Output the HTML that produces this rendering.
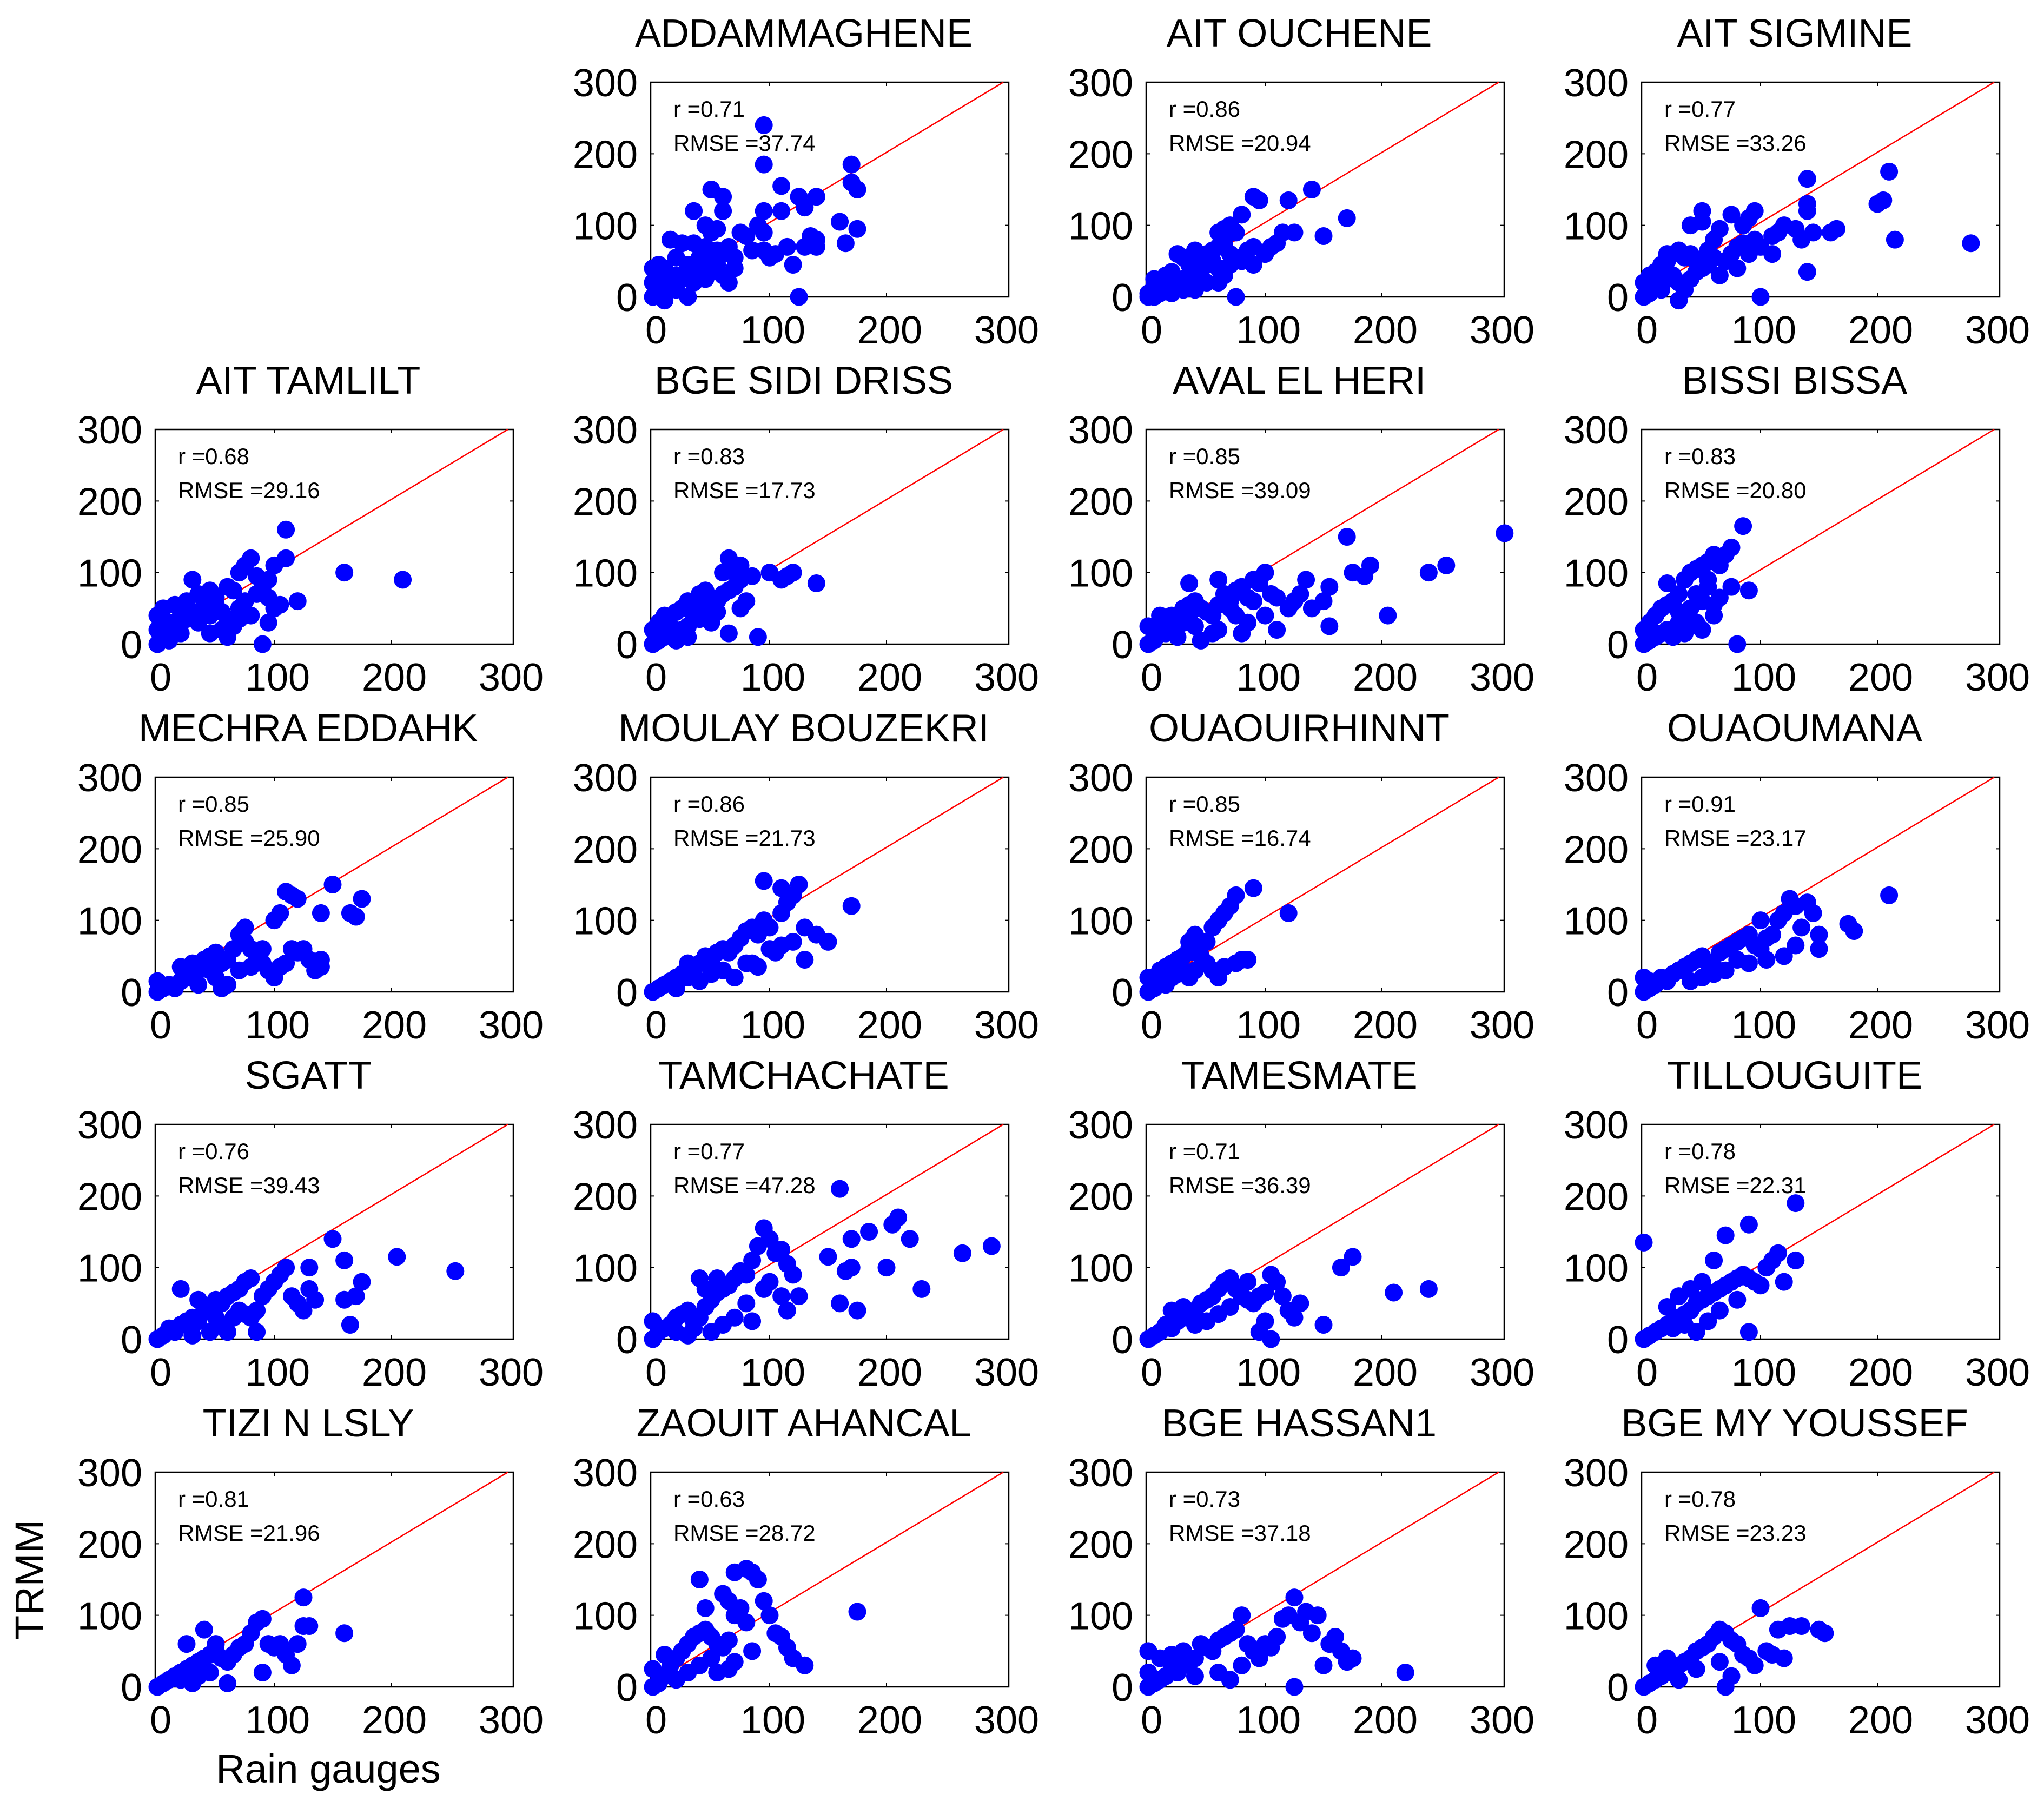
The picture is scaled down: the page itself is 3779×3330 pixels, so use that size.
<!DOCTYPE html>
<html><head><meta charset="utf-8"><title>TRMM vs Rain gauges</title>
<style>
html,body{margin:0;padding:0;background:#fff;}
svg{display:block;font-family:"Liberation Sans",sans-serif;}
</style></head>
<body>
<svg id="fig" xmlns="http://www.w3.org/2000/svg" width="3779" height="3330" viewBox="0 0 3779 3330">
<rect x="0" y="0" width="3779" height="3330" fill="#fff"/>
<text x="0" y="0" transform="translate(80,2921) rotate(-90)" text-anchor="middle" font-size="74">TRMM</text>
<text x="607" y="3296" text-anchor="middle" font-size="74">Rain gauges</text>
</svg>
<script>
const stations = ["ADDAMMAGHENE","AIT OUCHENE","AIT SIGMINE","AIT TAMLILT","BGE SIDI DRISS","AVAL EL HERI","BISSI BISSA","MECHRA EDDAHK","MOULAY BOUZEKRI","OUAOUIRHINNT","OUAOUMANA","SGATT","TAMCHACHATE","TAMESMATE","TILLOUGUITE","TIZI N LSLY","ZAOUIT AHANCAL","BGE HASSAN1","BGE MY YOUSSEF"];
const rValues = ["0.71","0.86","0.77","0.68","0.83","0.85","0.83","0.85","0.86","0.85","0.91","0.76","0.77","0.71","0.78","0.81","0.63","0.73","0.78"];
const rmseValues = ["37.74","20.94","33.26","29.16","17.73","39.09","20.80","25.90","21.73","16.74","23.17","39.43","47.28","36.39","22.31","21.96","28.72","37.18","23.23"];
const tickValues = [0,100,200,300];
const tickLabels = ["0","100","200","300"];

const pts0 = [[95,240],[95,185],[170,185],[110,155],[170,160],[175,150],[50,150],[60,140],[140,140],[125,140],[130,125],[35,120],[60,120],[110,120],[160,105],[175,95],[95,120],[90,100],[95,90],[80,85],[75,90],[135,85],[140,80],[130,70],[165,75],[115,70],[95,65],[100,55],[105,60],[120,45],[140,70],[125,0],[70,55],[85,65],[70,40],[60,30],[65,20],[30,0],[15,80],[25,75],[35,75],[45,70],[55,65],[50,50],[40,40],[45,100],[50,90],[55,95],[20,55],[30,45],[10,40],[5,30],[0,20],[0,0],[5,10],[10,5],[15,20],[20,30],[25,25],[30,35],[35,20],[40,30],[45,25],[50,35],[55,45],[20,10],[10,-5],[5,45],[0,40],[40,55],[60,60],[65,70]];
const pts1 = [[5,0],[0,5],[10,5],[15,10],[20,15],[25,20],[30,25],[10,20],[20,5],[5,15],[30,10],[35,30],[40,35],[45,40],[50,45],[55,50],[20,35],[25,60],[30,55],[40,65],[45,55],[50,60],[55,65],[60,70],[65,75],[70,60],[75,55],[80,50],[85,65],[90,70],[60,90],[65,95],[75,90],[70,100],[80,115],[90,140],[95,135],[120,135],[115,90],[110,75],[105,70],[140,150],[150,85],[170,110],[125,90],[100,60],[60,40],[65,30],[70,45],[90,45],[15,30],[35,45],[45,30],[50,20],[40,10],[60,20],[75,0],[5,25],[0,0]];
const pts2 = [[0,0],[5,5],[10,15],[15,10],[0,20],[20,25],[25,30],[30,20],[10,35],[5,30],[15,45],[20,50],[25,60],[30,65],[35,55],[40,60],[45,50],[50,40],[55,65],[20,60],[40,25],[45,35],[55,45],[60,55],[70,50],[75,60],[80,70],[85,75],[60,80],[50,105],[50,120],[40,100],[65,95],[85,100],[90,110],[95,80],[100,70],[110,85],[115,90],[120,100],[130,95],[135,80],[140,120],[140,130],[145,90],[140,35],[165,95],[200,130],[205,135],[210,175],[215,80],[280,75],[160,90],[110,60],[100,0],[80,40],[65,30],[30,-5],[35,10],[90,60],[75,115],[95,120],[140,165]];
const pts3 = [[0,0],[5,10],[10,5],[0,20],[5,25],[10,30],[15,20],[20,15],[0,40],[5,50],[15,55],[20,40],[25,35],[30,45],[35,30],[40,50],[45,40],[50,55],[55,45],[60,35],[65,25],[70,50],[75,60],[80,40],[85,70],[90,75],[95,65],[30,90],[25,60],[35,70],[40,60],[45,75],[50,65],[60,80],[70,100],[75,110],[80,120],[90,80],[95,90],[100,110],[110,120],[110,160],[120,60],[160,100],[210,90],[85,95],[90,0],[20,30],[45,15],[55,20],[60,10],[5,35],[65,75],[70,35],[100,50],[95,30],[105,55],[75,40]];
const pts4 = [[0,0],[5,5],[10,10],[0,20],[5,30],[15,15],[20,5],[25,20],[30,25],[35,35],[10,40],[20,45],[25,50],[30,60],[35,55],[40,50],[45,45],[40,70],[45,75],[50,65],[55,60],[60,70],[65,75],[70,80],[75,90],[70,100],[65,120],[60,100],[80,60],[75,50],[85,95],[100,100],[110,90],[115,95],[120,100],[140,85],[90,10],[65,15],[50,30],[40,35],[30,10],[15,25],[55,45],[75,110]];
const pts5 = [[0,0],[5,5],[10,20],[0,25],[15,15],[20,25],[25,10],[30,30],[35,35],[10,40],[20,40],[30,50],[35,55],[40,60],[45,50],[50,45],[55,40],[60,55],[65,70],[70,60],[75,75],[80,80],[85,65],[90,90],[95,85],[100,100],[105,70],[110,65],[35,85],[60,90],[70,50],[75,40],[85,30],[80,15],[100,40],[110,20],[120,50],[130,70],[135,90],[150,60],[155,80],[155,25],[170,150],[175,100],[185,95],[190,110],[205,40],[240,100],[255,110],[305,155],[125,60],[140,50],[60,20],[45,5],[55,15],[90,60],[40,25]];
const pts6 = [[0,0],[5,5],[0,20],[5,30],[10,10],[15,15],[20,20],[10,40],[15,50],[20,55],[25,60],[30,45],[35,40],[40,50],[45,70],[30,70],[20,85],[35,90],[40,100],[45,105],[50,110],[55,115],[60,125],[65,110],[55,90],[70,125],[75,135],[85,165],[55,80],[50,60],[45,30],[40,25],[25,10],[35,15],[50,20],[60,40],[65,65],[75,80],[90,75],[80,0],[60,55],[30,30]];
const pts7 = [[0,0],[5,5],[10,10],[15,5],[0,15],[20,15],[25,20],[30,25],[35,30],[40,45],[45,50],[50,55],[55,40],[60,45],[65,60],[70,80],[75,70],[80,60],[85,50],[90,40],[95,30],[100,20],[105,35],[110,40],[115,60],[120,55],[125,60],[130,45],[135,30],[140,45],[100,100],[105,110],[110,140],[115,135],[120,130],[140,110],[150,150],[165,110],[170,105],[175,130],[20,35],[30,40],[45,30],[50,20],[60,10],[70,30],[80,35],[90,60],[140,35],[75,90],[35,10],[55,5]];
const pts8 = [[0,0],[5,5],[10,10],[15,15],[20,20],[25,25],[30,20],[35,30],[40,40],[45,50],[50,45],[55,55],[60,60],[65,55],[70,65],[75,75],[80,85],[85,90],[90,80],[95,100],[100,90],[110,110],[115,125],[120,135],[125,150],[95,155],[110,145],[100,60],[110,65],[120,70],[130,90],[140,80],[150,70],[170,120],[130,45],[70,20],[80,40],[90,35],[105,55],[60,30],[40,15],[20,5],[30,40],[50,25],[85,40]];
const pts9 = [[0,0],[5,5],[10,15],[15,10],[20,20],[25,25],[30,30],[35,20],[0,20],[10,30],[15,35],[20,40],[25,45],[30,50],[35,60],[40,55],[45,65],[50,70],[55,90],[60,100],[65,110],[70,120],[75,135],[90,145],[120,110],[50,40],[55,30],[60,20],[65,35],[75,40],[80,45],[85,45],[40,80],[35,70],[45,50],[40,30]];
const pts10 = [[0,0],[5,5],[10,10],[0,20],[5,15],[15,20],[20,15],[25,25],[30,30],[35,35],[40,40],[45,45],[50,50],[55,40],[60,35],[65,55],[70,60],[75,65],[80,70],[85,75],[90,80],[95,65],[100,60],[105,75],[110,80],[115,100],[120,110],[125,130],[130,120],[140,125],[145,110],[135,90],[130,65],[120,50],[105,45],[90,40],[80,45],[60,25],[40,15],[50,20],[175,95],[180,85],[210,135],[150,80],[150,60],[100,100],[70,30]];
const pts11 = [[0,0],[5,5],[10,15],[15,10],[20,20],[25,25],[30,30],[35,25],[40,40],[45,45],[50,55],[55,50],[60,60],[65,65],[70,70],[75,80],[80,85],[20,70],[35,55],[50,30],[55,20],[60,10],[65,30],[70,40],[75,35],[80,30],[85,40],[90,60],[95,70],[100,80],[105,90],[110,100],[115,60],[120,50],[125,40],[130,70],[135,55],[150,140],[160,55],[170,60],[165,20],[175,80],[205,115],[255,95],[160,110],[130,100],[45,10],[85,10],[30,5]];
const pts12 = [[0,0],[5,10],[10,15],[0,25],[15,20],[20,30],[25,35],[30,40],[35,25],[40,30],[45,45],[50,55],[55,65],[60,70],[65,75],[70,85],[75,95],[80,90],[85,110],[90,130],[95,155],[100,140],[105,120],[110,125],[115,105],[120,90],[100,80],[95,70],[110,60],[115,40],[125,60],[55,85],[40,85],[45,70],[35,15],[20,10],[60,20],[70,30],[80,50],[150,115],[160,50],[165,95],[170,100],[170,140],[175,40],[185,150],[200,100],[205,160],[210,170],[220,140],[230,70],[265,120],[290,130],[160,210],[30,5],[50,10],[85,25]];
const pts13 = [[0,0],[5,5],[10,10],[15,20],[20,15],[25,25],[30,30],[35,35],[40,40],[45,50],[50,55],[55,60],[60,70],[65,80],[70,85],[75,70],[80,60],[85,55],[90,50],[95,60],[100,65],[105,90],[110,80],[115,60],[120,40],[125,30],[130,50],[100,25],[95,10],[105,0],[30,45],[20,40],[40,20],[50,25],[60,35],[70,45],[150,20],[165,100],[175,115],[210,65],[240,70],[85,80]];
const pts14 = [[0,0],[5,5],[10,10],[15,15],[20,20],[25,25],[30,30],[35,35],[40,40],[45,50],[50,55],[55,60],[60,65],[65,70],[70,75],[75,80],[80,85],[85,90],[90,85],[95,80],[100,75],[105,100],[110,110],[115,120],[120,80],[130,110],[70,145],[90,160],[60,110],[50,80],[40,70],[30,60],[20,45],[25,15],[35,20],[55,25],[45,10],[0,135],[90,10],[130,190],[80,55],[65,40]];
const pts15 = [[0,0],[5,5],[10,10],[15,15],[20,20],[25,25],[30,30],[35,35],[40,40],[45,45],[50,50],[55,40],[60,35],[65,45],[70,55],[75,60],[80,75],[85,90],[40,80],[25,60],[50,60],[35,15],[45,20],[60,5],[90,20],[95,60],[100,55],[105,60],[110,45],[115,30],[120,60],[125,125],[125,85],[130,85],[160,75],[90,95],[20,10],[30,5]];
const pts16 = [[0,0],[5,5],[10,15],[0,25],[15,30],[20,40],[25,50],[30,60],[35,70],[40,75],[45,80],[50,70],[55,60],[60,55],[65,65],[70,100],[75,110],[80,90],[85,160],[90,150],[95,120],[100,100],[105,75],[110,70],[115,55],[120,40],[130,30],[175,105],[40,150],[45,110],[60,130],[65,120],[70,160],[80,165],[50,40],[40,30],[30,20],[20,10],[55,20],[65,25],[70,35],[85,50],[10,45]];
const pts17 = [[0,0],[5,5],[10,10],[0,20],[15,15],[20,25],[25,20],[30,30],[35,35],[0,50],[10,40],[20,45],[30,50],[40,40],[45,60],[50,55],[55,50],[60,65],[65,70],[70,75],[75,80],[80,100],[85,60],[90,50],[95,40],[100,60],[105,55],[110,70],[115,95],[120,100],[125,125],[130,90],[135,105],[140,75],[145,100],[150,30],[155,60],[160,70],[165,50],[170,35],[175,40],[220,20],[125,0],[60,20],[70,10],[80,30],[40,15]];
const pts18 = [[0,0],[5,5],[10,10],[15,15],[20,20],[25,25],[30,30],[35,35],[40,40],[45,50],[50,55],[55,60],[60,70],[65,80],[70,75],[75,65],[80,60],[85,45],[90,40],[95,30],[100,110],[105,50],[110,45],[115,80],[120,40],[125,85],[135,85],[150,80],[155,75],[65,35],[75,15],[70,0],[45,25],[30,10],[20,40],[10,30]];
const seriesPoints = [pts0,pts1,pts2,pts3,pts4,pts5,pts6,pts7,pts8,pts9,pts10,pts11,pts12,pts13,pts14,pts15,pts16,pts17,pts18];

(function(){
  const NS = "http://www.w3.org/2000/svg";
  const svg = document.getElementById("fig");
  const colLeft = [287,1203,2119,3035];
  const rowTop = [152,794,1437,2079,2722];
  const W = 662, H = 397;
  const slots = [];
  for (let c = 1; c < 4; c++) slots.push([0,c]);
  for (let r = 1; r < 5; r++) for (let c = 0; c < 4; c++) slots.push([r,c]);
  function mk(tag, attrs, parent){
    const e = document.createElementNS(NS, tag);
    for (const k in attrs) e.setAttribute(k, attrs[k]);
    parent.appendChild(e);
    return e;
  }
  stations.forEach(function(name, i){
    const L = colLeft[slots[i][1]], T = rowTop[slots[i][0]];
    const xs = v => L + 4 + v * 648 / 300;
    const ys = v => T + H - v * H / 300;
    const g = mk("g", {}, svg);
    
    
    const title = mk("text", {x: L + W/2 - 48, y: T - 66, "text-anchor": "middle", "font-size": 72}, g);
    title.textContent = name;
    
    
    const box = mk("rect", {x: L, y: T, width: W, height: H, fill: "#fff", stroke: "#000", "stroke-width": 2.5}, g);
    
    
    tickValues.forEach(function(tv, k){
      const xl = mk("text", {x: xs(tv) + 6, y: T + H + 86, "text-anchor": "middle", "font-size": 72}, g);
      xl.textContent = tickLabels[k];
      
      
      const yl = mk("text", {x: L - 24, y: ys(tv) + 26, "text-anchor": "end", "font-size": 72}, g);
      yl.textContent = tickLabels[k];
      
      
      if (tv > 0 && tv < 300) {
        const t1 = mk("path", {d: "M"+xs(tv)+","+(T+H)+"v-7M"+xs(tv)+","+T+"v7M"+L+","+ys(tv)+"h7M"+(L+W)+","+ys(tv)+"h-7", stroke: "#000", "stroke-width": 2}, g);
        
        
      }
    });
    const line = mk("line", {x1: xs(0), y1: ys(0) - 8, x2: xs(300), y2: ys(300), stroke: "#ff0000", "stroke-width": 2.5}, g);
    
    
    seriesPoints[i].forEach(function(p){
      const c = mk("circle", {cx: xs(p[0]), cy: ys(p[1]), r: 16.5, fill: "#0000ff"}, g);
      
      
    });
    const a1 = mk("text", {x: L + 42, y: T + 64, "font-size": 42}, g);
    a1.textContent = "r =" + rValues[i];
    
    
    const a2 = mk("text", {x: L + 42, y: T + 127, "font-size": 42}, g);
    a2.textContent = "RMSE =" + rmseValues[i];
    
    
  });
})();
</script>
</body></html>
